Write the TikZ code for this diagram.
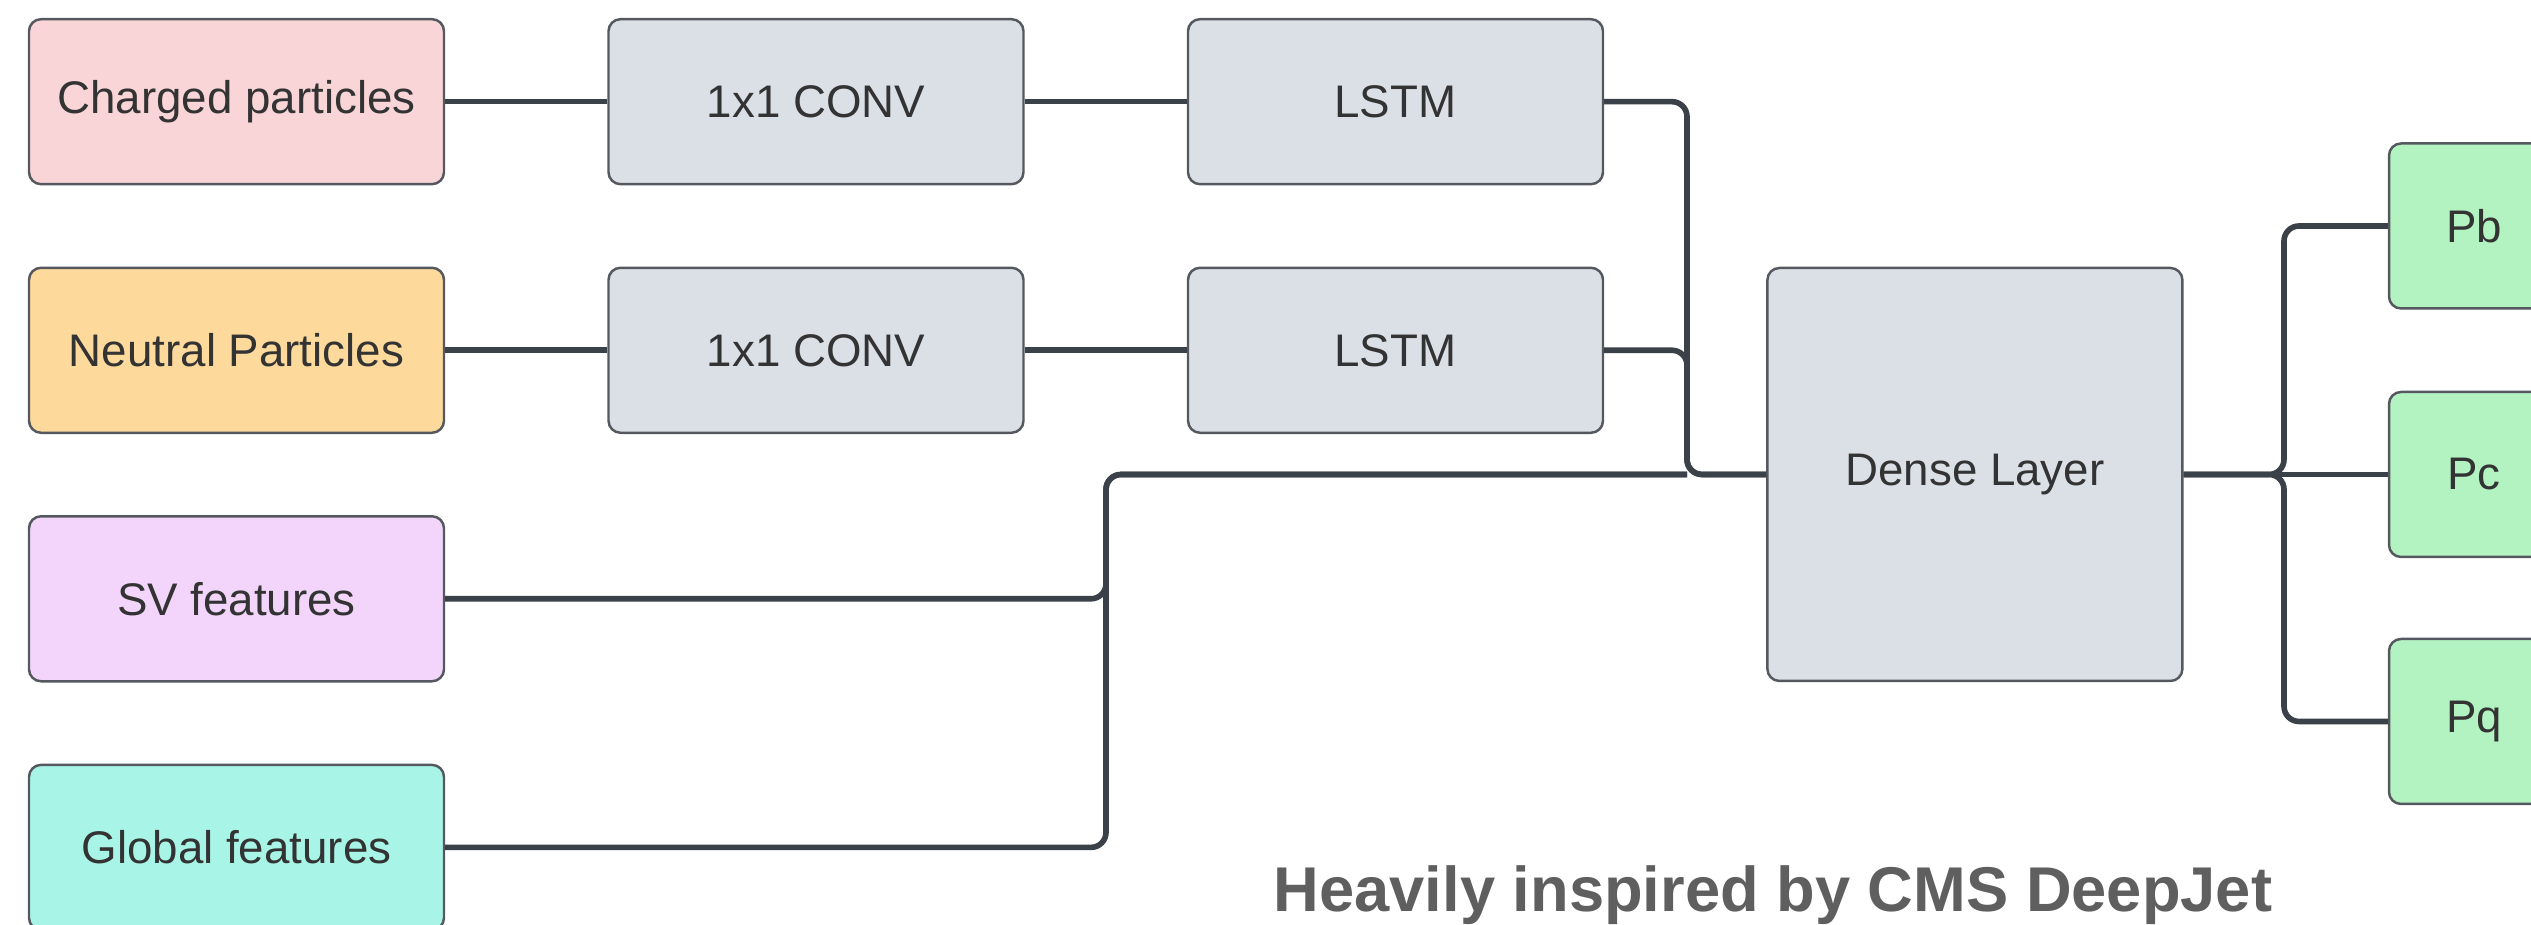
\documentclass[tikz,border=0pt]{standalone}
\usepackage{fontspec}
\setmainfont{Liberation Sans}
\definecolor{wirecol}{HTML}{3A4149}
\definecolor{edgecol}{HTML}{55585E}
\definecolor{txtcol}{HTML}{333333}
\definecolor{chargedfill}{HTML}{F9D5D7}
\definecolor{neutralfill}{HTML}{FDD99C}
\definecolor{svfill}{HTML}{F3D5FB}
\definecolor{globalfill}{HTML}{A8F5E8}
\definecolor{layerfill}{HTML}{DBDFE6}
\definecolor{outfill}{HTML}{B3F3C2}
\definecolor{notecol}{HTML}{5F5F5F}
\tikzset{
  block/.style={draw=edgecol, line width=0.7pt, rounded corners=0.12cm, minimum width=4.15cm,
    minimum height=1.65cm, text=txtcol, font=\fontsize{13}{15}\selectfont},
  outblock/.style={block, minimum width=1.7cm},
  wire/.style={draw=wirecol, line width=1.6pt, rounded corners=0.15cm}
}
\begin{document}
\begin{tikzpicture}
\useasboundingbox (0,0) rectangle (25.31,9.25);
% inputs
\node[block, fill=chargedfill] (charged) at (2.365,8.233) {Charged particles};
\node[block, fill=neutralfill] (neutral) at (2.365,5.747) {Neutral Particles};
\node[block, fill=svfill] (sv) at (2.365,3.262) {SV features};
\node[block, fill=globalfill] (global) at (2.365,0.776) {Global features};
% conv + lstm
\node[block, fill=layerfill] (conv1) at (8.16,8.233) {1x1 CONV};
\node[block, fill=layerfill] (conv2) at (8.16,5.747) {1x1 CONV};
\node[block, fill=layerfill] (lstm1) at (13.955,8.233) {LSTM};
\node[block, fill=layerfill] (lstm2) at (13.955,5.747) {LSTM};
\node[block, fill=layerfill, minimum height=4.13cm] (dense) at (19.749,4.505) {Dense Layer};
% outputs
\node[outblock, fill=outfill] (pb) at (24.74,6.99) {Pb};
\node[outblock, fill=outfill] (pc) at (24.74,4.505) {Pc};
\node[outblock, fill=outfill] (pq) at (24.74,2.035) {Pq};
\coordinate (merge) at (16.87,4.505);
\coordinate (split) at (11.06,4.505);
\coordinate (fork) at (22.84,4.505);
\draw[wire] (charged) -- (conv1);
\draw[wire] (neutral) -- (conv2);
\draw[wire] (conv1) -- (lstm1);
\draw[wire] (conv2) -- (lstm2);
\draw[wire] (lstm1.east) -| (merge) -- (dense.west);
\draw[wire] (lstm2.east) -| (merge) -- (dense.west);
\draw[wire] (sv.east) -| (split) -- (merge);
\draw[wire] (global.east) -| (split) -- (merge);
\draw[wire] (dense.east) -- (fork) |- (pb.west);
\draw[wire] (dense.east) -- (pc.west);
\draw[wire] (dense.east) -- (fork) |- (pq.west);
\node[anchor=base, text=notecol, font=\fontsize{18}{20}\selectfont\bfseries] (note) at (17.73,0.13)
  {Heavily inspired by CMS DeepJet};
\end{tikzpicture}
\end{document}
